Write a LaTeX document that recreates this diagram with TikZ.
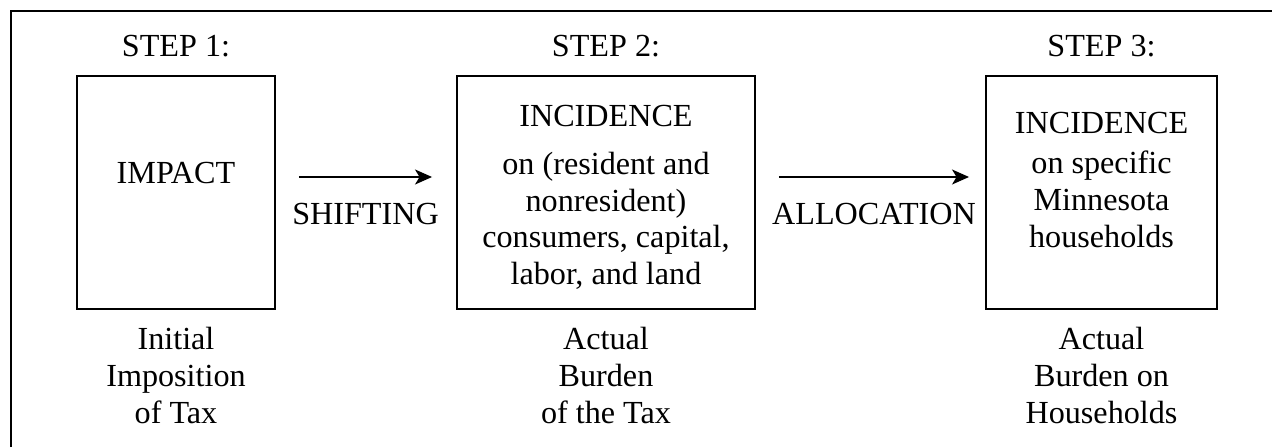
\documentclass[tikz,border=0pt]{standalone}
\usepackage{fontspec}
\setmainfont{Liberation Serif}
\usetikzlibrary{positioning,arrows.meta}
\tikzset{>={Stealth[length=0.34cm,width=0.3cm,inset=0.09cm]}}

\begin{document}
\begin{tikzpicture}[every node/.style={font=\fontsize{18.3}{21}\selectfont,inner sep=0pt,align=center},
  stepbox/.style={draw,line width=1.1pt,minimum height=4.66cm}]
\useasboundingbox (0,0) rectangle (25.44,8.94);
\draw[line width=1.1pt] (0.22,0) -- (0.22,8.72) -- (25.44,8.72);

% the three boxes
\node[stepbox,minimum width=3.96cm] (impact) at (3.52,5.09) {};
\node[stepbox,minimum width=5.96cm] (incid) at (12.12,5.09) {};
\node[stepbox,minimum width=4.62cm] (hhold) at (22.03,5.09) {};

\node[above=0.36cm of impact] (stepone) {STEP 1:};
\node[above=0.36cm of incid] (steptwo) {STEP 2:};
\node[above=0.36cm of hhold] (stepthree) {STEP 3:};

\node[below=1.73cm of impact.north] (impacttxt) {IMPACT};
\node[below=0.6cm of incid.north] (incidtxt) {INCIDENCE\\[6pt] on (resident and\\ nonresident)\\ consumers, capital,\\ labor, and land};
\node[below=0.73cm of hhold.north] (hholdtxt) {INCIDENCE\\[2pt] on specific\\ Minnesota\\ households};

\node[below=0.34cm of impact] (impactcap) {Initial\\ Imposition\\ of Tax};
\node[below=0.34cm of incid] (incidcap) {Actual\\ Burden\\ of the Tax};
\node[below=0.34cm of hhold] (hholdcap) {Actual\\ Burden on\\ Households};

% arrows between steps
\draw[->,line width=0.9pt] ([xshift=0.46cm,yshift=0.31cm]impact.east) -- node[below=0.5cm] (shift) {SHIFTING} ([xshift=-0.48cm,yshift=0.31cm]incid.west);
\draw[->,line width=0.9pt] ([xshift=0.46cm,yshift=0.31cm]incid.east) -- node[below=0.5cm] (alloc) {ALLOCATION} ([xshift=-0.32cm,yshift=0.31cm]hhold.west);
\end{tikzpicture}
\end{document}
